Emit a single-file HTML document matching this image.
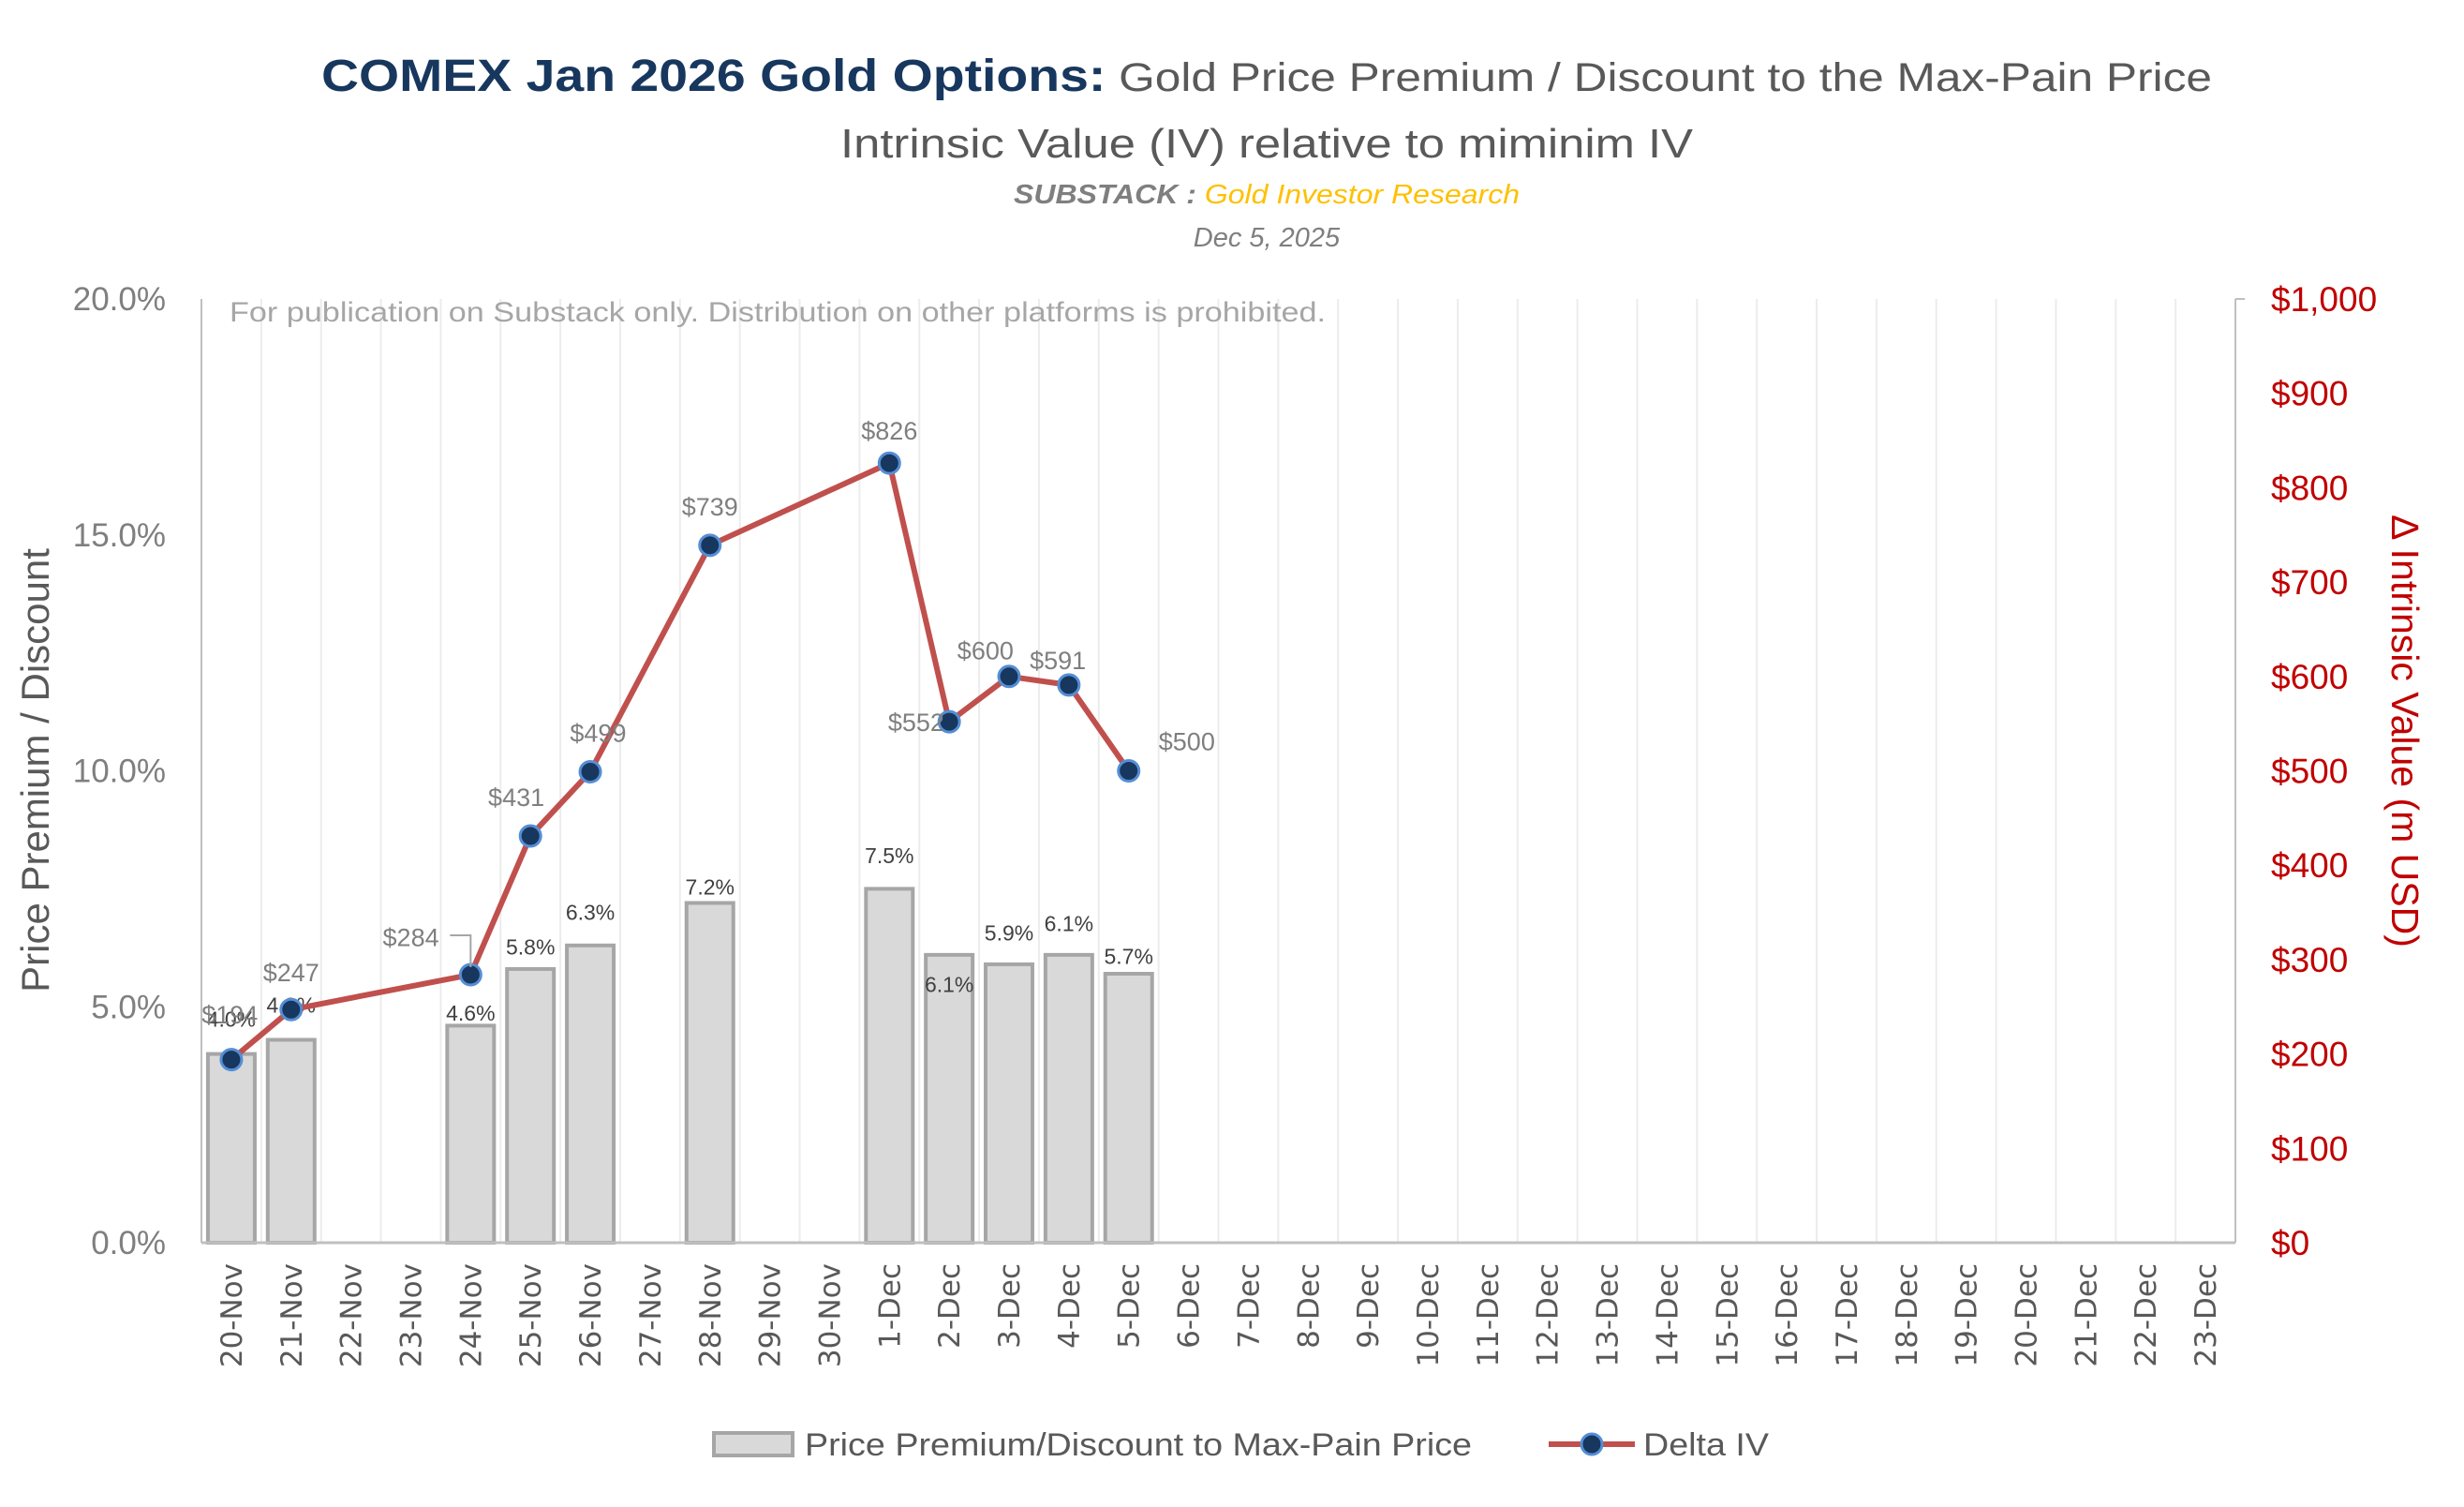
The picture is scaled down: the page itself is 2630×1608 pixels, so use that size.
<!DOCTYPE html>
<html><head><meta charset="utf-8"><style>
html,body{margin:0;padding:0;background:#fff;}
svg{display:block;}
text{font-family:"Liberation Sans",sans-serif;}
</style></head><body>
<svg id="chart" width="2630" height="1608" viewBox="0 0 2630 1608" xmlns="http://www.w3.org/2000/svg">
<rect width="2630" height="1608" fill="#fff"/>
<text x="1352" y="97" text-anchor="middle" font-size="48" textLength="2018" lengthAdjust="spacingAndGlyphs"><tspan font-weight="bold" fill="#17375e">COMEX Jan 2026 Gold Options:</tspan><tspan fill="#595959" font-size="43"> Gold Price Premium / Discount to the Max-Pain Price</tspan></text>
<text x="1352" y="168" text-anchor="middle" font-size="44" fill="#595959" textLength="910" lengthAdjust="spacingAndGlyphs">Intrinsic Value (IV) relative to miminim IV</text>
<text x="1352" y="217" text-anchor="middle" font-size="29" font-style="italic" textLength="540" lengthAdjust="spacingAndGlyphs"><tspan fill="#7f7f7f" font-weight="bold">SUBSTACK :</tspan><tspan fill="#ffc000">  Gold Investor Research</tspan></text>
<text x="1352" y="263" text-anchor="middle" font-size="29" font-style="italic" fill="#7f7f7f">Dec 5, 2025</text>
<g id="grid"></g>
<g id="bars"></g>
<g id="axes"></g>
<text x="245" y="343" font-size="30" fill="#a6a6a6" textLength="1170" lengthAdjust="spacingAndGlyphs">For publication on Substack only. Distribution on other platforms is prohibited.</text>
<g id="line"></g>
<text transform="translate(52,822) rotate(-90)" text-anchor="middle" font-size="42" fill="#595959">Price Premium / Discount</text>
<text transform="translate(2553,780) rotate(90)" text-anchor="middle" font-size="41" fill="#c00000">Δ Intrinsic Value (m USD)</text>
<g>
<g>
<rect x="762" y="1529" width="84" height="24" fill="#d9d9d9" stroke="#a6a6a6" stroke-width="4"/>
<text x="859" y="1553" font-size="34" fill="#595959" textLength="712" lengthAdjust="spacingAndGlyphs">Price Premium/Discount to Max-Pain Price</text>
</g>
<g>
<line x1="1653" y1="1541" x2="1745" y2="1541" stroke="#c0504d" stroke-width="6"/>
<circle cx="1699" cy="1541" r="11" fill="#17375e" stroke="#558ed5" stroke-width="3"/>
<text x="1754" y="1553" font-size="34" fill="#595959" textLength="134" lengthAdjust="spacingAndGlyphs">Delta IV</text>
</g>
</g>
</svg>
<script>
const categories = ["20-Nov","21-Nov","22-Nov","23-Nov","24-Nov","25-Nov","26-Nov","27-Nov","28-Nov","29-Nov","30-Nov","1-Dec","2-Dec","3-Dec","4-Dec","5-Dec","6-Dec","7-Dec","8-Dec","9-Dec","10-Dec","11-Dec","12-Dec","13-Dec","14-Dec","15-Dec","16-Dec","17-Dec","18-Dec","19-Dec","20-Dec","21-Dec","22-Dec","23-Dec"];
const premiumPct = [4.0,4.3,null,null,4.6,5.8,6.3,null,7.2,null,null,7.5,6.1,5.9,6.1,5.7];
const deltaIV = [194,247,null,null,284,431,499,null,739,null,null,826,552,600,591,500];
const leftTicks = [0,5,10,15,20];
const rightTicks = [0,100,200,300,400,500,600,700,800,900,1000];
// label placement offsets (style, not data)
const barLabelDy = [22,22,0,0,8,14,21,0,10,0,0,21,-19,20,20,11];
const ivLabelOff = [[-1,-29],[0,-24],[0,0],[0,0],[-38,-24],[-9,-25],[5,-25],[0,0],[0,-25],[0,0],[0,0],[0,-21],[-21,0],[-15,-17],[-7,-16],[37,-19]];

const NS="http://www.w3.org/2000/svg";
const L=215,R=2386,T=319,B=1326;
const step=(R-L)/categories.length;
const S=1.678;
function xC(i){return L+step*(i+0.5);}
function yL(v){return B-(v/20)*(B-T);}
function yR(v){return B-(v/1000)*(B-T);}
function mk(tag,attrs,parent,txt){const e=document.createElementNS(NS,tag);for(const k in attrs)e.setAttribute(k,attrs[k]);if(txt!==undefined)e.textContent=txt;parent.appendChild(e);return e;}
const grid=document.getElementById('grid'),bars=document.getElementById('bars'),axes=document.getElementById('axes'),line=document.getElementById('line');

for(let i=1;i<categories.length;i++){
  const g=mk('line',{x1:L+step*i,x2:L+step*i,y1:T,y2:B,stroke:'#ececec','stroke-width':2},grid);
  
  
}
premiumPct.forEach((v,i)=>{
  if(v==null)return;
  const bw=50,y=yL(v);
  const r=mk('rect',{x:xC(i)-bw/2,y:y,width:bw,height:B-y,fill:'#d9d9d9',stroke:'#a6a6a6','stroke-width':4},bars);
  
  
  const t=mk('text',{x:xC(i),y:y-barLabelDy[i]*S+8,'text-anchor':'middle','font-size':23,fill:'#404040'},bars,v.toFixed(1)+'%');
  
  
});
mk('line',{x1:L,x2:L,y1:T,y2:B,stroke:'#bfbfbf','stroke-width':2},axes);
mk('line',{x1:L,x2:R,y1:B,y2:B,stroke:'#bfbfbf','stroke-width':3},axes);
mk('line',{x1:R,x2:R,y1:T,y2:B,stroke:'#bfbfbf','stroke-width':2},axes);
mk('line',{x1:R,x2:R+10,y1:T,y2:T,stroke:'#bfbfbf','stroke-width':2},axes);
leftTicks.forEach(v=>{
  const t=mk('text',{x:177,y:yL(v)+12,'text-anchor':'end','font-size':35,fill:'#7f7f7f'},axes,v.toFixed(1)+'%');
  
  
});
rightTicks.forEach(v=>{
  const t=mk('text',{x:2424,y:yR(v)+13,'font-size':37,fill:'#c00000'},axes,'$'+v.toLocaleString('en-US'));
  
  
});
categories.forEach((c,i)=>{
  const t=mk('text',{transform:`translate(${xC(i)+11},1348) rotate(-90)`,'text-anchor':'end','font-size':31,fill:'#595959',style:'font-family:"DejaVu Sans",sans-serif'},axes,c);
  
  
});
const pts=[];deltaIV.forEach((v,i)=>{if(v!=null)pts.push([xC(i),yR(v),i,v]);});
const pl=mk('polyline',{points:pts.map(p=>p[0]+','+p[1]).join(' '),fill:'none',stroke:'#c0504d','stroke-width':6,'stroke-linejoin':'round'},line);


pts.forEach(p=>{
  const c=mk('circle',{cx:p[0],cy:p[1],r:11,fill:'#17375e',stroke:'#558ed5',"stroke-width":3},line);
  
  
  const o=ivLabelOff[p[2]];
  const t=mk('text',{x:p[0]+o[0]*S,y:p[1]+o[1]*S+10,'text-anchor':'middle','font-size':27,fill:'#7f7f7f'},line,'$'+p[3]);
  
  
});
const li=4;
const ld=mk('polyline',{points:`${xC(li)-22},${yR(deltaIV[li])-42} ${xC(li)},${yR(deltaIV[li])-42} ${xC(li)},${yR(deltaIV[li])-8}`,fill:'none',stroke:'#a6a6a6','stroke-width':2},line);


</script>
</body></html>
